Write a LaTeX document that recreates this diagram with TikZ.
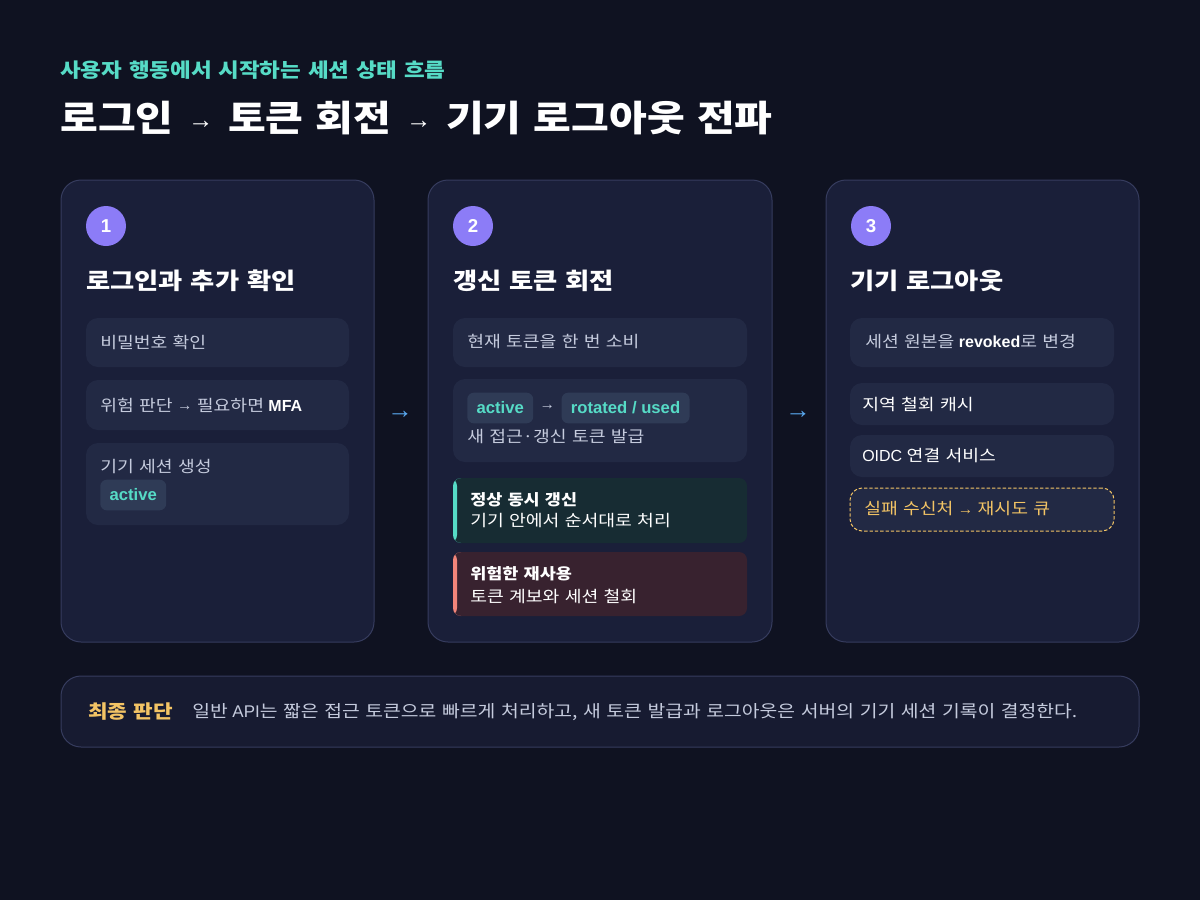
\documentclass[tikz,border=0pt]{standalone}
\usepackage{fontspec}
\setmainfont{Liberation Sans}
\newfontfamily\kr[FakeStretch=1.14,WordSpace=1.3]{Noto Sans CJK KR}
\usetikzlibrary{positioning,fit}
\definecolor{bgnavy}{HTML}{0F1221}
\definecolor{cardbg}{HTML}{1A1F39}
\definecolor{cardline}{HTML}{363C5E}
\definecolor{itembg}{HTML}{222944}
\definecolor{itemtext}{HTML}{C5CBDD}
\definecolor{chipbg}{HTML}{2F3B56}
\definecolor{mint}{HTML}{56DBC6}
\definecolor{violet}{HTML}{8C7CF7}
\definecolor{okbg}{HTML}{172C33}
\definecolor{badbg}{HTML}{38222F}
\definecolor{salmon}{HTML}{F2857A}
\definecolor{gold}{HTML}{F3C465}
\definecolor{skyblue}{HTML}{5AAAF2}
\definecolor{notebg}{HTML}{171B31}
\newcommand{\ar}{{\fontsize{11.5}{13}\selectfont\raisebox{0.5pt}{→}}}
\newcommand{\bigar}{\hspace{11pt}{\fontsize{19}{22}\selectfont\mdseries\raisebox{2.5pt}{→}}\hspace{11pt}}

\begin{document}
\begin{tikzpicture}[x=0.75pt,y=-0.75pt,
	card/.style={draw=cardline,fill=cardbg,line width=0.75pt,rounded corners=15pt,inner sep=0pt},
	item/.style={fill=itembg,rounded corners=9pt,inner sep=0pt},
	txt/.style={text=itemtext,font=\fontsize{12}{14}\selectfont,anchor=west,inner sep=0pt},
	strong/.style={text=white,font=\fontsize{11.5}{14}\selectfont\bfseries,anchor=west,inner sep=0pt},
	heading/.style={text=white,font=\fontsize{17.3}{21}\selectfont\bfseries,anchor=west,inner sep=0pt},
	badge/.style={circle,fill=violet,text=white,minimum size=30pt,inner sep=0pt,font=\fontsize{14}{16}\selectfont\bfseries},
	chip/.style={fill=chipbg,rounded corners=5pt,text=mint,minimum height=23pt,inner xsep=7pt,inner ysep=0pt,font=\fontsize{12.5}{14}\selectfont\bfseries},
	flow/.style={text=skyblue,font=\fontsize{19}{22}\selectfont,inner sep=0pt},
	okbox/.style={fill=okbg,rounded corners=6pt,inner sep=0pt,
		path picture={\fill[mint] (path picture bounding box.north west) rectangle ([xshift=3pt]path picture bounding box.south west);}},
	badbox/.style={fill=badbg,rounded corners=6pt,inner sep=0pt,
		path picture={\fill[salmon] (path picture bounding box.north west) rectangle ([xshift=3pt]path picture bounding box.south west);}},
	retrybox/.style={draw=gold,dash pattern=on 2.5pt off 1.5pt,line width=0.75pt,fill=itembg,rounded corners=9pt,inner sep=0pt}
]
	%BACKGROUND
	\fill[bgnavy] (0,0) rectangle (1200,900);
	\useasboundingbox (0,0) rectangle (1200,900);
	%TITLES
	\node[anchor=west,inner sep=0pt,text=mint,font=\fontsize{14.8}{17}\selectfont\bfseries\kr] (sub) at (60,70) {사용자 행동에서 시작하는 세션 상태 흐름};
	\node[anchor=west,inner sep=0pt,text=white,font=\fontsize{27}{30}\selectfont\bfseries] (title) at (60,118) {{\kr 로그인}\bigar{\kr 토큰 회전}\bigar{\kr 기기 로그아웃 전파}};

	%CARD 1
	\node[card,fit={(61,180) (374,642)}] (c1) {};
	\node[badge] (n1) at (106,226) {1};
	\node[heading] (h1) at (86,281) {\kr 로그인과 추가 확인};
	\node[item,fit={(86,318) (349,367)}] (i11) {};
	\node[txt] (t11) at (100,342) {\kr 비밀번호 확인};
	\node[item,fit={(86,380) (349,430)}] (i12) {};
	\node[txt] (t12) at (100,405) {{\kr 위험 판단} \ar{} {\kr 필요하면} {\color{white}\bfseries MFA}};
	\node[item,fit={(86,443) (349,525)}] (i13) {};
	\node[txt] (t13) at (100,467) {\kr 기기 세션 생성};
	\node[chip,anchor=west] (k13) at (100,495) {active};

	%CARD 2
	\node[card,fit={(428,180) (772,642)}] (c2) {};
	\node[badge] (n2) at (473,226) {2};
	\node[heading] (h2) at (453,281) {\kr 갱신 토큰 회전};
	\node[item,fit={(453,318) (747,367)}] (i21) {};
	\node[txt] (t21) at (467,342) {\kr 현재 토큰을 한 번 소비};
	\node[item,fit={(453,379) (747,462)}] (i22) {};
	\node[chip,anchor=west] (k22a) at (467,408) {active};
	\node[txt,right=4.5pt of k22a] (r22) {\ar};
	\node[chip,right=4.5pt of r22] (k22b) {rotated / used};
	\node[txt] (t22) at (467,437) {\kr 새 접근·갱신 토큰 발급};
	\node[okbox,fit={(453,478) (747,543)}] (g2) {};
	\node[strong] (t23a) at (470,500) {\kr 정상 동시 갱신};
	\node[txt,text=white] (t23b) at (470,521) {\kr 기기 안에서 순서대로 처리};
	\node[badbox,fit={(453,552) (747,616)}] (r2) {};
	\node[strong] (t24a) at (470,574) {\kr 위험한 재사용};
	\node[txt,text=white] (t24b) at (470,596) {\kr 토큰 계보와 세션 철회};

	%CARD 3
	\node[card,fit={(826,180) (1139,642)}] (c3) {};
	\node[badge] (n3) at (871,226) {3};
	\node[heading] (h3) at (850,281) {\kr 기기 로그아웃};
	\node[item,fit={(850,318) (1114,367)}] (i31) {};
	\node[txt] (t31) at (865,342) {{\kr 세션 원본을} {\color{white}\bfseries revoked}{\kr 로 변경}};
	\node[item,fit={(850,383) (1114,425)}] (i32) {};
	\node[txt,text=white] (t32) at (862,404) {\kr 지역 철회 캐시};
	\node[item,fit={(850,435) (1114,477)}] (i33) {};
	\node[txt,text=white] (t33) at (862,456) {OIDC {\kr 연결 서비스}};
	\node[retrybox,fit={(850,488) (1114,531)}] (i34) {};
	\node[txt,text=gold] (t34) at (864,509) {{\kr 실패 수신처} \ar{} {\kr 재시도 큐}};

	%FLOW ARROWS
	\node[flow] (f12) at (400,415) {→};
	\node[flow] (f23) at (798,415) {→};

	%NOTE
	\node[card,fill=notebg,fit={(61,676) (1139,747)}] (note) {};
	\node[anchor=west,inner sep=0pt,text=gold,font=\fontsize{14}{16}\selectfont\bfseries\kr] (nk) at (88,712) {최종 판단};
	\node[txt,font=\fontsize{12.7}{15}\selectfont] (nt) at (192,712) {{\kr 일반} API{\kr 는 짧은 접근 토큰으로 빠르게 처리하고, 새 토큰 발급과 로그아웃은 서버의 기기 세션 기록이 결정한다.}};
\end{tikzpicture}
\end{document}
